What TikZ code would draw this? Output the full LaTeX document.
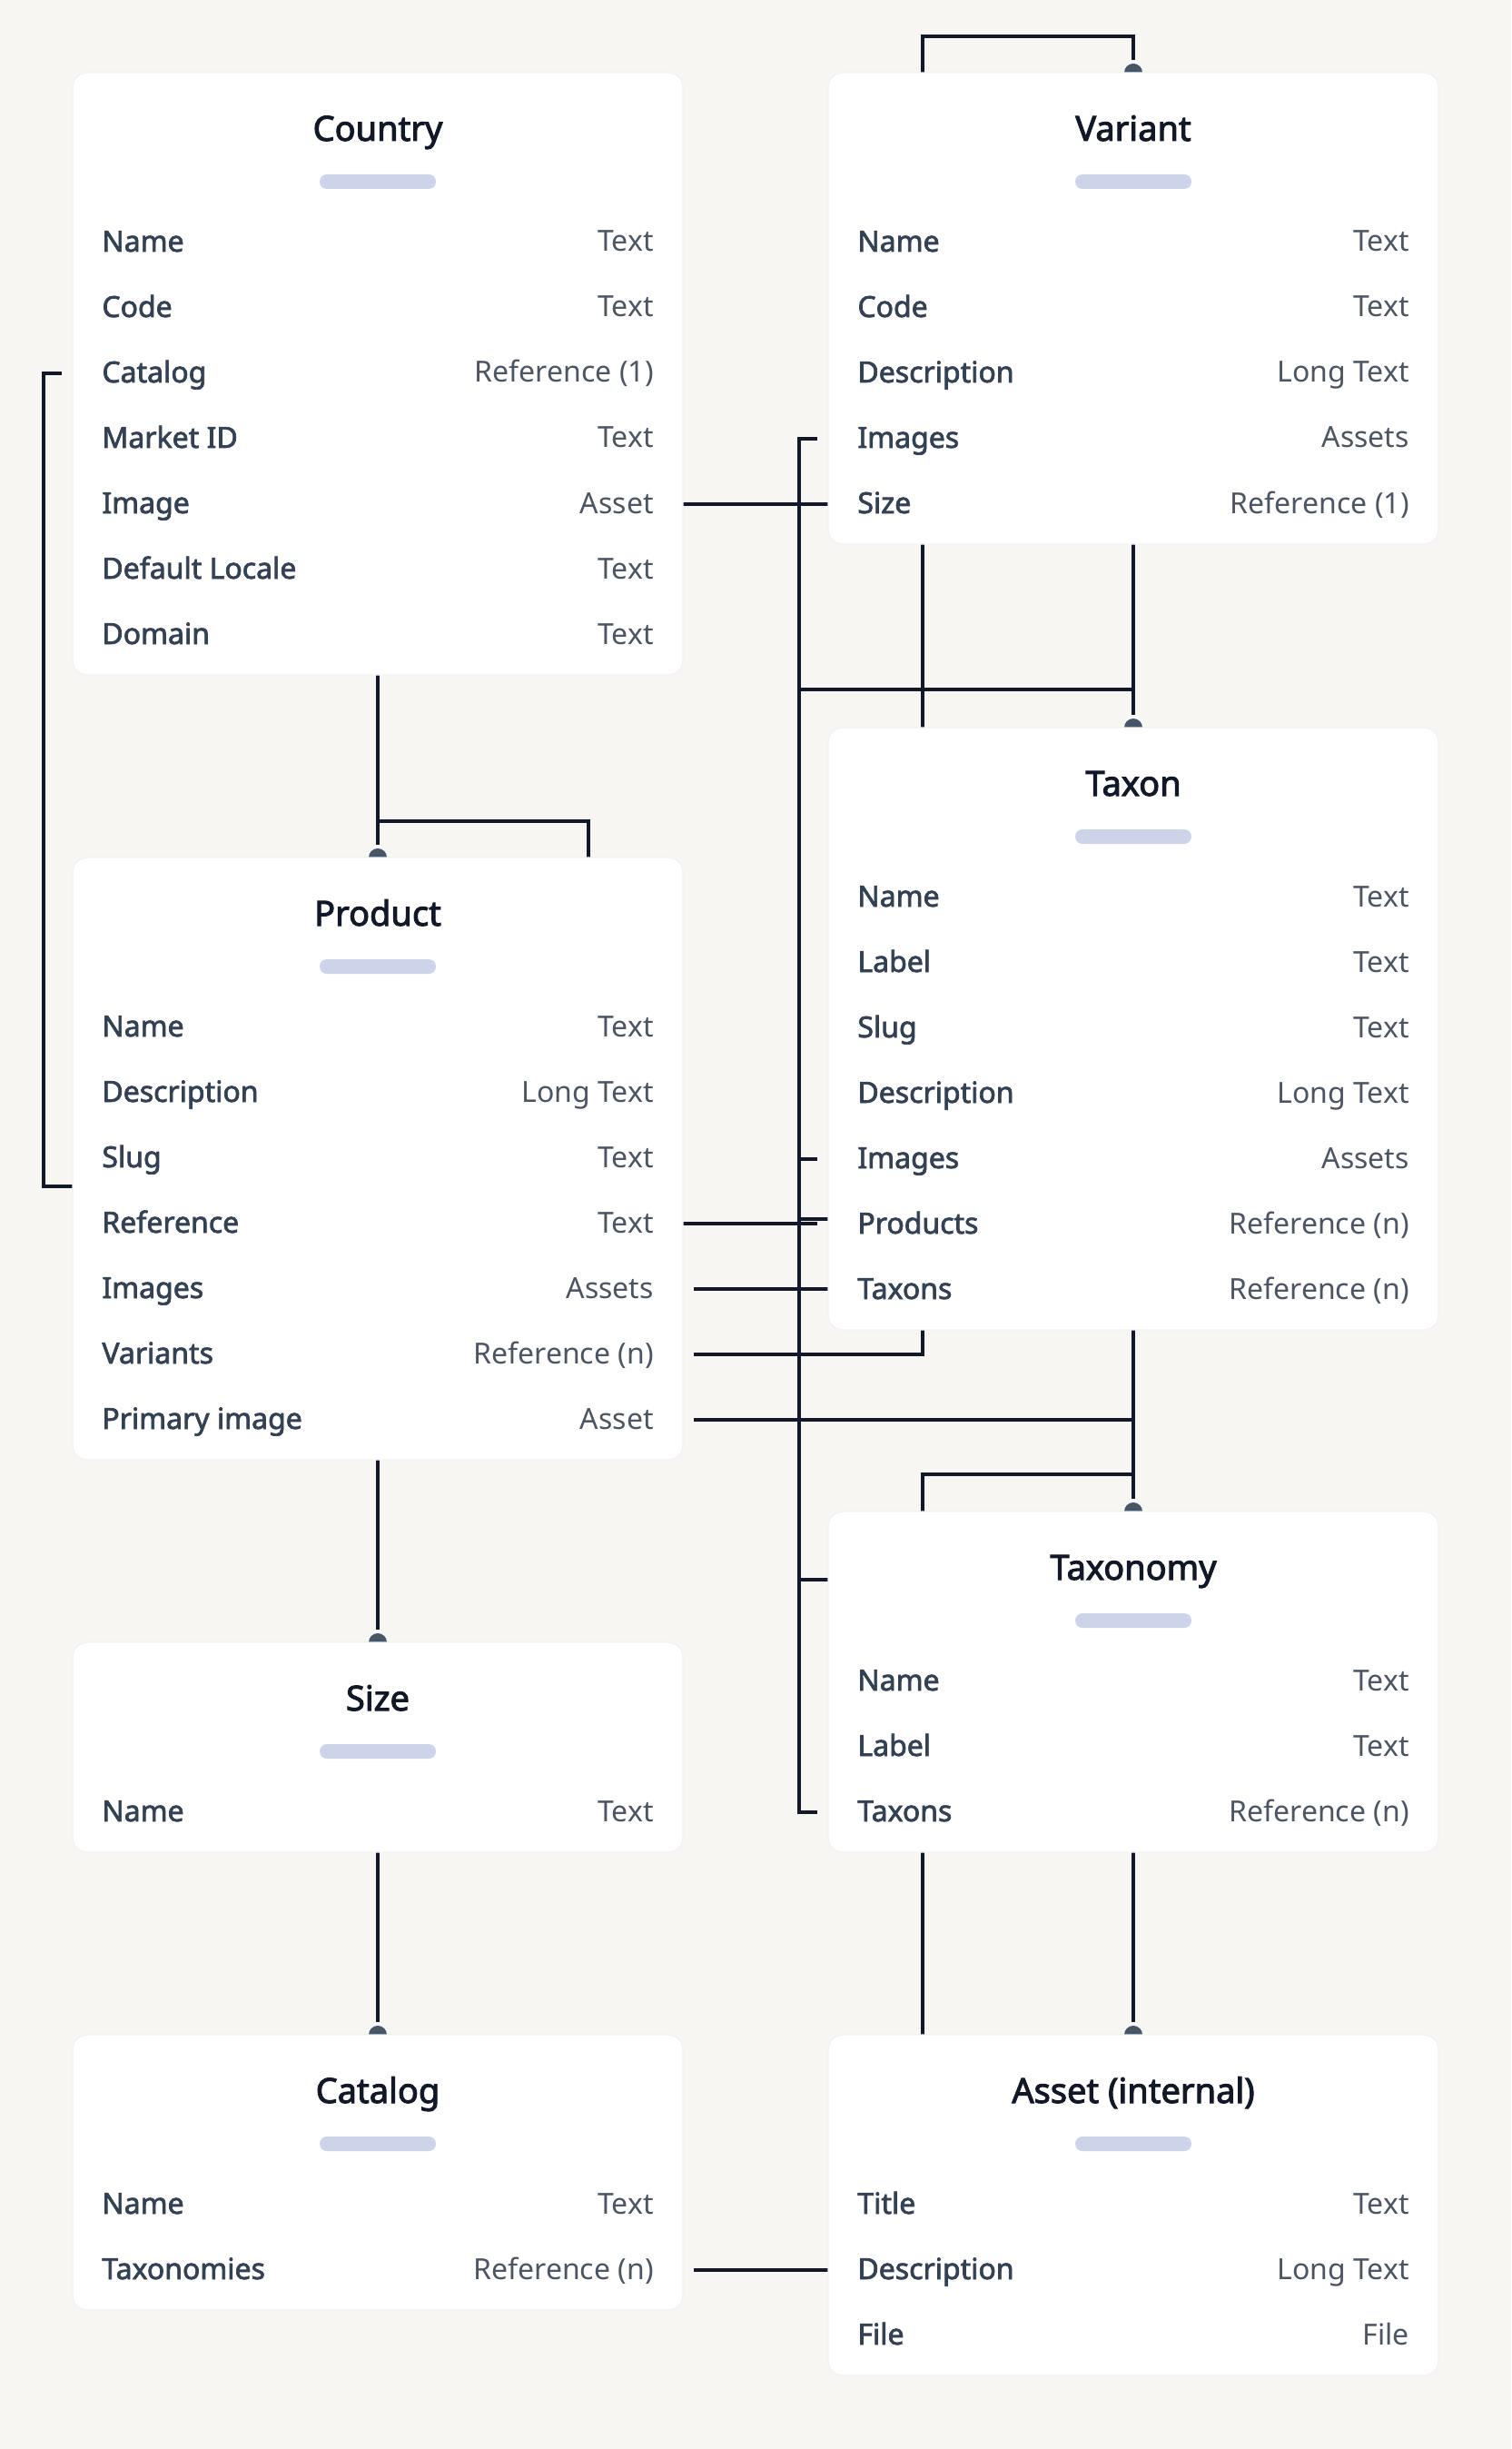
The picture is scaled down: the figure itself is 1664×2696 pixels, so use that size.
\documentclass[tikz,border=0pt]{standalone}
\usepackage{fontspec}
\setmainfont{Noto Sans}
\newfontfamily\heavy{Noto Sans}[FakeBold=2.6]
\newfontfamily\semi{Noto Sans}[FakeBold=2.2]
\usetikzlibrary{calc}
\definecolor{pagebg}{HTML}{F7F6F3}
\definecolor{ink}{HTML}{111827}
\definecolor{slate}{HTML}{334155}
\definecolor{muted}{HTML}{4B5563}
\definecolor{pin}{HTML}{475569}
\definecolor{barcol}{HTML}{CDD3E8}
\pgfdeclarelayer{backdrop}
\pgfdeclarelayer{links}
\pgfsetlayers{backdrop,links,main}

% #1 name, #2 x, #3 top, #4 rows, #5 title, #6 fields
\newcommand\entity[6]{%
  \pgfmathsetmacro\cardh{(231+72*(#4-1))/2}
  \node[card, minimum height=\cardh pt, anchor=north] (#1) at (#2,#3) {};
  \node[cardtitle, anchor=base] (#1-title) at (#2,#3+75) {#5};
  \node[cardbar] (#1-bar) at (#2,#3+120) {};
  \foreach \lab/\typ [count=\k from 0] in {#6} {
    \coordinate (#1-\k) at (#2,#3+187+72*\k);
    \node[fieldname, anchor=base west] (#1-\k-l) at (#2-304,#3+197+72*\k) {\lab};
    \node[fieldtype, anchor=base east] (#1-\k-t) at (#2+304,#3+197+72*\k) {\typ};
  }
}

\begin{document}
\begin{tikzpicture}[x=0.5pt, y=-0.5pt,
    card/.style={rectangle, rounded corners=8pt, fill=white, draw=black!5, line width=0.6pt,
      minimum width=336pt, inner sep=0pt, outer sep=0pt},
    cardtitle/.style={inner sep=0pt, text=ink, font=\fontsize{19}{23}\heavy},
    cardbar/.style={rectangle, rounded corners=4pt, fill=barcol, minimum width=64pt,
      minimum height=8pt, inner sep=0pt},
    fieldname/.style={inner sep=0pt, text=slate, font=\fontsize{16}{20}\semi},
    fieldtype/.style={inner sep=0pt, text=muted, font=\fontsize{16}{20}\selectfont},
    link/.style={draw=ink, line width=2pt},
    pinhead/.style={fill=pin}]
  \useasboundingbox (0,0) rectangle (1664,2696);
  \begin{pgfonlayer}{backdrop}
    \fill[pagebg] (0,0) rectangle (1664,2696);
  \end{pgfonlayer}

  \entity{country}{416}{80}{7}{Country}{Name/Text, Code/Text, Catalog/Reference (1),
    Market ID/Text, Image/Asset, Default Locale/Text, Domain/Text}
  \entity{variant}{1248}{80}{5}{Variant}{Name/Text, Code/Text, Description/Long Text,
    Images/Assets, Size/Reference (1)}
  \entity{taxon}{1248}{801}{7}{Taxon}{Name/Text, Label/Text, Slug/Text,
    Description/Long Text, Images/Assets, Products/Reference (n), Taxons/Reference (n)}
  \entity{product}{416}{944}{7}{Product}{Name/Text, Description/Long Text, Slug/Text,
    Reference/Text, Images/Assets, Variants/Reference (n), Primary image/Asset}
  \entity{size}{416}{1808}{1}{Size}{Name/Text}
  \entity{taxonomy}{1248}{1664}{3}{Taxonomy}{Name/Text, Label/Text, Taxons/Reference (n)}
  \entity{catalog}{416}{2240}{2}{Catalog}{Name/Text, Taxonomies/Reference (n)}
  \entity{asset}{1248}{2240}{3}{Asset (internal)}{Title/Text, Description/Long Text, File/File}

  \coordinate (lbus) at (48,0);
  \coordinate (rbus) at (880,0);
  \coordinate (mid) at (1016,0);
  \coordinate (loop) at ($(variant.north)+(-232,-40)$);
  \coordinate (hub) at ($(taxon.north)+(0,-42)$);
  \coordinate (fork) at ($(taxonomy.north)+(0,-41)$);
  \coordinate (split) at ($(product.north)+(232,-40)$);
  \coordinate (slug) at ($(product-2 -| product.west)+(0,31)$);

  \begin{pgfonlayer}{links}
    \draw[link] (variant.north -| loop) -- (loop) -- (loop -| variant.north) -- ($(variant.north)+(0,-14)$);
    \fill[pinhead] (variant.north) circle[radius=5pt];

    \draw[link] ($(country-2 -| country.west)+(-12,0)$) -| (lbus |- slug) -- (slug);
    \draw[link] (country-4 -| country.east) -- (country-4 -| variant.west);

    \draw[link] ($(variant-3 -| variant.west)+(-12,0)$) -| (rbus |- taxonomy-2)
      -- ($(taxonomy-2 -| taxonomy.west)+(-12,0)$);
    \draw[link] (rbus |- hub) -- (hub);
    \draw[link] (variant.south) -- ($(taxon.north)+(0,-14)$);
    \fill[pinhead] (taxon.north) circle[radius=5pt];
    \draw[link] (variant.south -| mid) |- ($(product-5 -| product.east)+(12,0)$);

    \draw[link] (rbus |- taxon-4) -- ($(taxon-4 -| taxon.west)+(-12,0)$);
    \draw[link] (product-3 -| product.east) -- ($(product-3 -| taxon.west)+(-12,0)$);
    \draw[link] ($(rbus |- taxon-5)+(0,-6)$) -- ($(taxon-5 -| taxon.west)+(0,-6)$);
    \draw[link] ($(product-4 -| product.east)+(12,0)$) -- (product-4 -| taxon.west);
    \draw[link] ($(product-6 -| product.east)+(12,0)$) -- (product-6 -| taxon.south);

    \draw[link] (taxon.south) -- ($(taxonomy.north)+(0,-14)$);
    \fill[pinhead] (taxonomy.north) circle[radius=5pt];
    \draw[link] (fork) -| (taxonomy.north -| mid);
    \draw[link] (rbus |- taxonomy-title.base) -- (taxonomy-title.base -| taxonomy.west);

    \draw[link] (taxonomy.south -| mid) -- (asset.north -| mid);
    \draw[link] (taxonomy.south) -- ($(asset.north)+(0,-14)$);
    \fill[pinhead] (asset.north) circle[radius=5pt];

    \draw[link] (country.south) -- ($(product.north)+(0,-14)$);
    \fill[pinhead] (product.north) circle[radius=5pt];
    \draw[link] (split -| product.north) -| (product.north -| split);
    \draw[link] (product.south) -- ($(size.north)+(0,-14)$);
    \fill[pinhead] (size.north) circle[radius=5pt];
    \draw[link] (size.south) -- ($(catalog.north)+(0,-14)$);
    \fill[pinhead] (catalog.north) circle[radius=5pt];
    \draw[link] ($(catalog-1 -| catalog.east)+(12,0)$) -- (catalog-1 -| asset.west);
  \end{pgfonlayer}
\end{tikzpicture}
\end{document}
